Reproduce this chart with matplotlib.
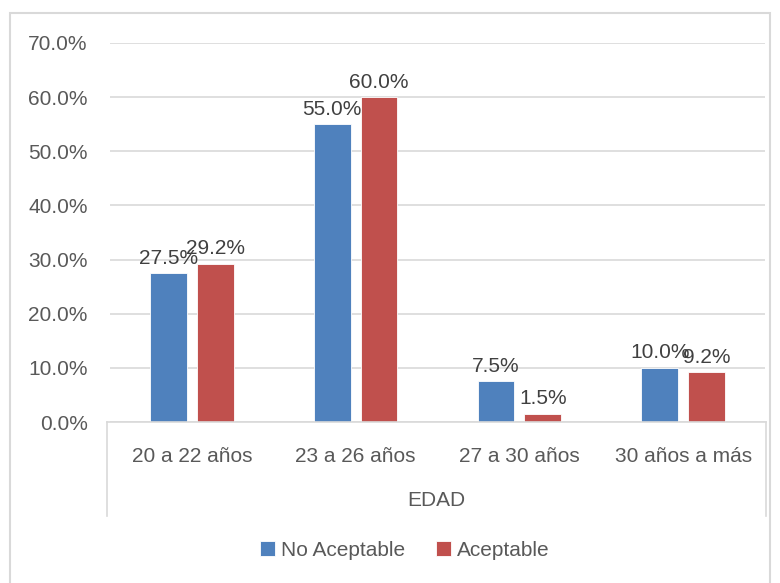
import numpy as np
import matplotlib.pyplot as plt
from matplotlib.patches import Rectangle
from matplotlib.lines import Line2D

categories = ["20 a 22 años", "23 a 26 años", "27 a 30 años", "30 años a más"]
no_aceptable = [27.5, 55.0, 7.5, 10.0]
aceptable = [29.2, 60.0, 1.5, 9.2]
series_names = ["No Aceptable", "Aceptable"]
group_label = "EDAD"

plt.rcParams["font.family"] = ["Liberation Sans", "DejaVu Sans"]
txt = "#595959"
blue = "#4F81BD"
red = "#C0504D"
fs = 15

W, H = 780, 583
fig = plt.figure(figsize=(W / 100, H / 100), dpi=100)
# plot area in pixels: x 110..765, y 43..422
ax = fig.add_axes([110 / W, 1 - 422 / H, 655 / W, 379 / H])

x = np.arange(len(categories))
bw = 0.225
off = 0.143
b1 = ax.bar(x - off, no_aceptable, bw, color=blue, edgecolor="white", linewidth=0.6, zorder=3)
b2 = ax.bar(x + off, aceptable, bw, color=red, edgecolor="white", linewidth=0.6, zorder=3)

for bars, vals in [(b1, no_aceptable), (b2, aceptable)]:
    for r, v in zip(bars, vals):
        ax.annotate(f"{v:.1f}%", (r.get_x() + r.get_width() / 2, v), xytext=(0, 4),
                    textcoords="offset points", ha="center", va="bottom",
                    fontsize=fs, color="#404040", zorder=5)

ax.set_xlim(-0.5, len(categories) - 0.5)
ax.set_ylim(0, 70)
ax.set_yticks(np.arange(0, 71, 10))
ax.set_yticklabels([f"{t:.1f}%" for t in np.arange(0, 71, 10)])
ax.yaxis.grid(True, color="#D9D9D9", linewidth=1.2, zorder=0)
ax.tick_params(axis="y", length=0, labelsize=fs, labelcolor=txt, pad=16)
ax.set_xticks([])
for s in ax.spines.values():
    s.set_visible(False)

# category axis box (multi-level)
y0 = 1 - 422 / H
y1 = 1 - 516 / H
xl, xr = 107 / W, 766 / W
fig.add_artist(Line2D([xl, xr], [y0, y0], color="#D9D9D9", lw=1.2))
fig.add_artist(Line2D([xl, xl], [y0, y1], color="#D9D9D9", lw=1.2))
fig.add_artist(Line2D([xr, xr], [y0, y1], color="#D9D9D9", lw=1.2))
for xi, c in zip(x, categories):
    ax.text(xi, -0.09, c, transform=ax.get_xaxis_transform(), ha="center", va="center",
            fontsize=fs, color=txt)
fig.text((xl + xr) / 2, 1 - 500 / H, group_label, ha="center", va="center", fontsize=fs, color=txt)

# outer chart border
fig.add_artist(Rectangle((10 / W, -0.05), 760 / W, 1 - 13 / H + 0.05, fill=False,
                         edgecolor="#D9D9D9", lw=1.5))

fig.legend([b1, b2], series_names, loc="center", bbox_to_anchor=(405 / W, 1 - 550 / H),
           ncol=2, frameon=False, fontsize=fs, labelcolor=txt, handlelength=0.7,
           handleheight=0.7, handletextpad=0.3, columnspacing=1.5)

fig.savefig("out.png", dpi=100)
